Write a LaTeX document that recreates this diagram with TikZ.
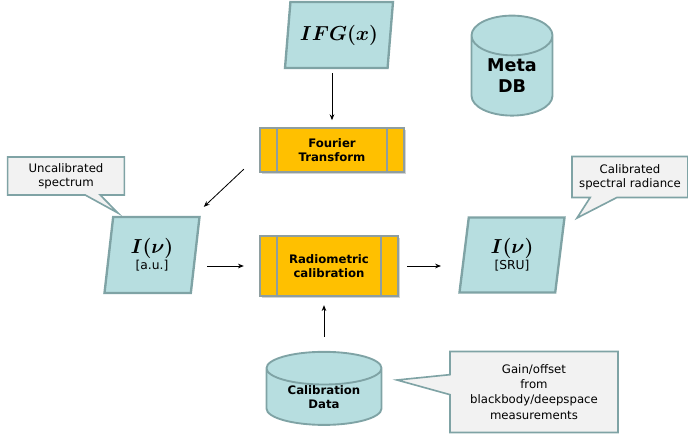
\documentclass[tikz,border=0pt]{standalone}
\usepackage{amsmath,fontspec}
\setmainfont{DejaVu Sans}
\usetikzlibrary{shapes.geometric,shapes.callouts,shadows,arrows.meta}
\definecolor{cyanfill}{HTML}{B7DEE0}
\definecolor{cyanline}{HTML}{7FA3A5}
\definecolor{boxfill}{HTML}{FFC000}
\definecolor{boxline}{HTML}{8E9EA0}
\definecolor{notefill}{HTML}{F2F2F2}

\begin{document}
\begin{tikzpicture}[x=0.03cm, y=-0.03cm,
    para/.style={trapezium, trapezium stretches body, draw=cyanline, fill=cyanfill, line width=2pt, align=center, inner sep=0pt},
    db/.style={cylinder, shape border rotate=90, draw=cyanline, fill=cyanfill, line width=1.6pt, align=center, inner sep=0pt},
    procbox/.style={rectangle, draw=boxline, fill=boxfill, line width=2pt, align=center, font=\fontsize{10}{12}\selectfont\bfseries,
        drop shadow={opacity=0.35, shadow xshift=1.5pt, shadow yshift=-1.5pt},
        path picture={\draw[boxline, line width=1.6pt] ([xshift=0.5cm]path picture bounding box.north west) -- ([xshift=0.5cm]path picture bounding box.south west);
                      \draw[boxline, line width=1.6pt] ([xshift=-0.5cm]path picture bounding box.north east) -- ([xshift=-0.5cm]path picture bounding box.south east);}},
    note/.style={rectangle callout, draw=cyanline, fill=notefill, line width=1.4pt, align=center, font=\fontsize{10}{12}\selectfont},
    arr/.style={-{Stealth[length=5pt,width=4pt]}, line width=0.7pt}]
\useasboundingbox (0,0) rectangle (688,435);

% inputs / outputs
\node[para, trapezium left angle=75, trapezium right angle=105, minimum width=3.24cm, minimum height=1.98cm,
      font=\fontsize{16}{18}\selectfont] (ifg) at (339,35) {$\boldsymbol{IFG(x)}$};
\node[para, trapezium left angle=75, trapezium right angle=105, minimum width=2.85cm, minimum height=2.28cm] (iau) at (152,255)
      {\fontsize{17}{19}\selectfont$\boldsymbol{I(\nu)}$\\{}\fontsize{10.5}{12}\selectfont[a.u.]};
\node[para, trapezium left angle=74, trapezium right angle=106, minimum width=3.15cm, minimum height=2.25cm] (isru) at (512,255)
      {\fontsize{17}{19}\selectfont$\boldsymbol{I(\nu)}$\\{}\fontsize{10.5}{12}\selectfont[SRU]};

% databases
\node[db, aspect=0.8, minimum width=2.43cm, minimum height=3cm, font=\fontsize{15}{18}\selectfont\bfseries] (meta) at (512,76) {Meta\\DB};
\node[db, aspect=0.45, minimum width=3.45cm, minimum height=1.95cm, font=\fontsize{10}{12}\selectfont\bfseries] (cal) at (324,397) {Calibration\\Data};

% processing
\node[procbox, minimum width=4.32cm, minimum height=1.32cm] (ft) at (332,150) {Fourier\\Transform};
\node[procbox, minimum width=4.14cm, minimum height=1.8cm] (rad) at (329,266) {Radiometric\\calibration};

% comments
\node[note, minimum width=3.5cm, minimum height=1.14cm, callout absolute pointer={(118,213)}, callout pointer width=0.45cm] (uncal) at (66,176) {Uncalibrated\\spectrum};
\node[note, minimum width=3.48cm, minimum height=1.23cm, callout absolute pointer={(577,218)}, callout pointer width=0.8cm] (calib) at (630,177) {Calibrated\\spectral radiance};
\node[note, minimum width=5.04cm, minimum height=2.43cm, callout absolute pointer={(397,380)}, callout pointer width=0.6cm,
      font=\fontsize{10}{13}\selectfont] (gain) at (534,392) {Gain/offset\\from\\blackbody/deepspace\\measurements};

% flow
\draw[arr, shorten <=0.12cm, shorten >=0.2cm] (ft.north |- ifg.south) -- (ft.north);
\draw[arr] ([shift={(-15,-4)}]ft.south west) -- ([shift={(3,-9)}]iau.top right corner);
\draw[arr, shorten <=0.33cm, shorten >=0.45cm] (iau.east |- rad.west) -- (rad.west);
\draw[arr, shorten <=0.24cm, shorten >=0.66cm] (rad.east) -- (rad.east -| isru.west);
\draw[arr, shorten <=0.42cm, shorten >=0.24cm] (cal.north) -- (cal.north |- rad.south);
\end{tikzpicture}
\end{document}
